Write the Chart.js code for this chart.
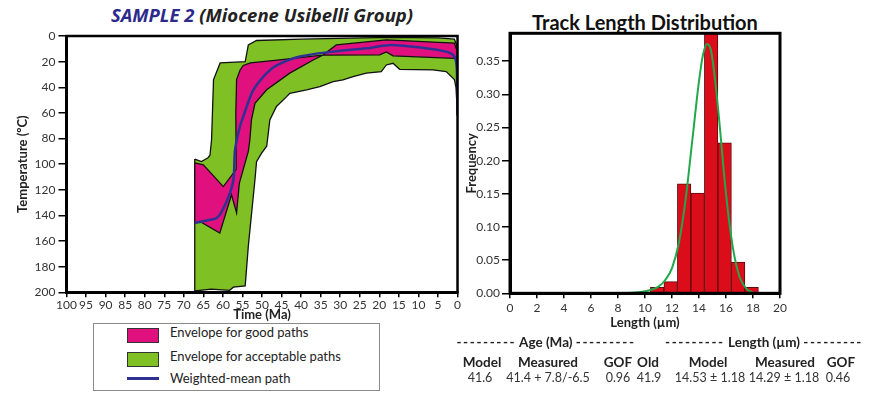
<!DOCTYPE html>
<html>
<head>
<meta charset="utf-8">
<script src="https://cdn.jsdelivr.net/npm/chart.js@4.4.1/dist/chart.umd.min.js"></script>
<style>
body { margin: 0; background: #fff; width: 873px; height: 394px; position: relative; overflow: hidden; font-family: Lato, sans-serif; color: #222; }
.abs { position: absolute; white-space: nowrap; line-height: 1; }
canvas { position: absolute; }
#legendBox { position: absolute; left: 93px; top: 323px; width: 285px; height: 66px; border: 1px solid #8a8a8a; }
.sw { position: absolute; left: 127px; width: 30px; height: 13px; border: 1px solid #333; }
.lg { font-size: 13px; left: 170px; }
.hd { font-weight: bold; font-size: 13.5px; transform: translateX(-50%); }
.vl { font-size: 12.5px; transform: translateX(-50%); color: #333; }
.ds { letter-spacing: 1.6px; }
</style>
</head>
<body>

<div class="abs" id="leftTitle" style="left:262px; top:6px; font-family:'Open Sans', sans-serif; font-size:18.5px; font-weight:bold; font-style:italic; transform:translateX(-50%);"><span style="color:#2d2a8c">SAMPLE 2</span> (Miocene Usibelli Group)</div>
<div class="abs" id="rightTitle" style="left:645px; top:12px; font-size:20px; font-weight:bold; transform:translateX(-50%); color:#111;">Track Length Distribution</div>

<canvas id="historyChart" width="462" height="323" style="left:0; top:0;"></canvas>
<canvas id="lengthChart" width="433" height="331" style="left:440px; top:0;"></canvas>

<div id="legendBox"></div>
<div class="sw" style="top:328px; background:#e0117f;"></div>
<div class="abs lg" style="top:326px;">Envelope for good paths</div>
<div class="sw" style="top:352px; background:#7fc125;"></div>
<div class="abs lg" style="top:350px;">Envelope for acceptable paths</div>
<div class="abs" style="left:127px; top:377px; width:32px; height:3px; background:#2e3192;"></div>
<div class="abs lg" style="top:372px;">Weighted-mean path</div>

<div id="stats"></div>

<script>
// ---- thermal history (left) ----
// envelope for acceptable paths, traced round the outline (age Ma, temperature C)
const acceptAge = [67.2, 65.5, 63.8, 63.3, 62.9, 62.4, 60.7, 54.3, 53.5, 51.4, 40, 17.3, 5, 0.8, 0.1, 0,
    0.4, 0.8, 2.9, 6.3, 14.8, 16.5, 18.2, 19.5, 23.3, 26.7, 29.3, 31.8, 35.2, 38.6, 42.9, 43.7,
    46.3, 48, 48.4, 48.8, 50.1, 51.4, 51.8, 53.5, 54.3, 57.3, 58.3, 63, 67.2, 67.2];
const acceptTemp = [96, 98, 95, 93, 81, 34, 21, 20, 7, 3.5, 2.5, 1, 1.5, 2.5, 8, 62,
    40, 34, 27.8, 26.5, 26, 21.3, 22.6, 27.8, 29, 31.7, 34.3, 35.6, 39.5, 42, 44.7, 47.3,
    55, 65.5, 76, 86, 91.4, 98, 112, 164, 195, 196, 198.5, 197.5, 199, 96];

// envelope for good paths
const goodAge = [67.2, 65, 59.9, 56.6, 56.7, 56.5, 55.6, 54.8, 53, 46.7, 34.5, 19.9, 18.2, 16.5, 0.8, 0.1,
    0.1, 0.8, 18.2, 31, 34.5, 36.9, 42.9, 48.8, 51.8, 52.7, 53.1, 53.5, 55.8, 56.5, 57.8, 60.8, 65.9, 67.2, 67.2];
const goodTemp = [99, 100.5, 117.5, 104, 60, 34, 26.5, 23, 21, 19, 15, 14.8, 12.5, 15.5, 17.4, 17,
    12, 5.5, 3, 7, 15, 18.7, 29, 42, 52.5, 65.5, 81, 90, 115, 138, 124, 153.8, 144.7, 146, 99];

// weighted-mean path
const meanAge = [67.2, 63.3, 61.6, 60.3, 58.5, 57.3, 56.9, 55.6, 54.8, 53.9, 52.2, 48.8, 46.3, 40.3, 31.8, 23.3, 16.9, 8, 2.9, 0.8, 0.2, 0];
const meanTemp = [146, 143.4, 142, 137, 125, 112, 89, 70, 63, 55, 42, 29, 23, 16, 12.2, 9.6, 7, 9.6, 12.2, 16, 25, 62];

// ---- track length distribution (right) ----
const binCenters = [10.9, 11.9, 12.9, 13.9, 14.9, 15.9, 16.9, 17.9];
const binFreq = [0.009, 0.0175, 0.165, 0.151, 0.42, 0.227, 0.047, 0.009];

const fitLength = [8, 9, 10, 11, 11.5, 12, 12.5, 13, 13.5, 14, 14.3, 14.6, 14.9, 15.2, 15.5, 16, 16.5, 17, 17.5, 18];
const fitFreq = [0, 0.001, 0.003, 0.01, 0.02, 0.038, 0.075, 0.14, 0.23, 0.32, 0.36, 0.376, 0.365, 0.32, 0.26, 0.15, 0.07, 0.025, 0.007, 0.001];

// ---- stats table under the histogram ----
const groupLabels = ['Age (Ma)', 'Length (µm)'];
const groupCenters = [546, 764];
const statHeaders = ['Model', 'Measured', 'GOF', 'Old', 'Model', 'Measured', 'GOF'];
const statValues = ['41.6', '41.4 + 7.8/-6.5', '0.96', '41.9', '14.53 ± 1.18', '14.29 ± 1.18', '0.46'];
const headerCenters = [482, 548, 618, 648, 708, 785, 841];
const valueCenters = [480, 548, 618, 649, 710, 784, 838];

const stats = document.getElementById('stats');
function addText(txt, cls, x, y, dashed) {
    const d = document.createElement('div');
    d.className = 'abs ' + cls;
    if (dashed) {
        d.innerHTML = '<span class="ds">---------</span> ' + txt + ' <span class="ds">---------</span>';
    } else {
        d.textContent = txt;
    }
    d.style.left = x + 'px';
    d.style.top = y + 'px';
    stats.appendChild(d);
}
groupLabels.forEach((t, i) => addText(t, 'hd', groupCenters[i], 336, true));
statHeaders.forEach((t, i) => addText(t, 'hd', headerCenters[i], 356));
statValues.forEach((t, i) => addText(t, 'vl', valueCenters[i], 372));

Chart.defaults.font.family = 'Lato, sans-serif';
Chart.defaults.color = '#333';

const toPoints = (xs, ys) => xs.map((x, i) => ({ x: x, y: ys[i] }));

// thick black frame round the plot area
const frame = {
    id: 'frame',
    afterDraw(chart, args, opts) {
        const { ctx, chartArea: a } = chart;
        ctx.save();
        ctx.strokeStyle = '#000';
        ctx.lineWidth = opts.width;
        ctx.strokeRect(a.left, a.top, a.right - a.left, a.bottom - a.top);
        ctx.restore();
    }
};

const historyChart = new Chart(document.getElementById('historyChart'), {
    type: 'line',
    data: {
        datasets: [
            {
                label: 'Weighted-mean path',
                data: toPoints(meanAge, meanTemp),
                borderColor: '#2e3192',
                borderWidth: 2.5,
                pointRadius: 0,
                tension: 0.3,
                fill: false
            },
            {
                label: 'Envelope for good paths',
                data: toPoints(goodAge, goodTemp),
                borderColor: '#111',
                borderWidth: 1.3,
                backgroundColor: '#e0117f',
                pointRadius: 0,
                fill: 'shape'
            },
            {
                label: 'Envelope for acceptable paths',
                data: toPoints(acceptAge, acceptTemp),
                borderColor: '#111',
                borderWidth: 1.3,
                backgroundColor: '#7fc125',
                pointRadius: 0,
                fill: 'shape'
            }
        ]
    },
    options: {
        responsive: false,
        animation: false,
        devicePixelRatio: 1,
        layout: { padding: { top: 36, right: 4, left: 0, bottom: 0 } },
        plugins: {
            legend: { display: false },
            tooltip: { enabled: false },
            filler: { drawTime: 'beforeDatasetDraw' },
            frame: { width: 2.5 }
        },
        scales: {
            x: {
                type: 'linear',
                min: 0,
                max: 100,
                reverse: true,
                afterFit: s => { s.height = 30.7; },
                ticks: { stepSize: 5, autoSkip: false, maxRotation: 0, padding: 1, font: { size: 12 } },
                grid: { drawOnChartArea: false, color: '#000', lineWidth: 1.5, tickLength: 5 },
                border: { color: '#000', width: 3 },
                title: { display: true, text: 'Time (Ma)', color: '#222', font: { size: 13, weight: 'bold' }, padding: { top: 0, bottom: 0 } }
            },
            y: {
                type: 'linear',
                min: 0,
                max: 200,
                reverse: true,
                afterFit: s => { s.width = 66.5; },
                ticks: { stepSize: 20, padding: 3, font: { size: 12 } },
                grid: { drawOnChartArea: false, color: '#000', lineWidth: 1.5, tickLength: 8 },
                border: { color: '#000', width: 3 },
                title: { display: true, text: 'Temperature (ºC)', color: '#222', font: { size: 13, weight: 'bold' }, padding: { top: 15, bottom: 0 } }
            }
        }
    },
    plugins: [frame]
});

const lengthChart = new Chart(document.getElementById('lengthChart'), {
    type: 'bar',
    data: {
        datasets: [
            {
                type: 'line',
                label: 'Model fit',
                data: toPoints(fitLength, fitFreq),
                borderColor: '#22a84a',
                borderWidth: 2,
                pointRadius: 0,
                cubicInterpolationMode: 'monotone',
                fill: false
            },
            {
                type: 'bar',
                label: 'Measured',
                data: toPoints(binCenters, binFreq),
                backgroundColor: '#dc0d1b',
                borderColor: '#5e0a0e',
                borderWidth: 1,
                barPercentage: 1,
                categoryPercentage: 1
            }
        ]
    },
    options: {
        responsive: false,
        animation: false,
        devicePixelRatio: 1,
        layout: { padding: { top: 33.3, right: 93, left: 0, bottom: 0 } },
        plugins: {
            legend: { display: false },
            tooltip: { enabled: false },
            frame: { width: 3 }
        },
        scales: {
            x: {
                type: 'linear',
                min: 0,
                max: 20,
                offset: false,
                afterFit: s => { s.height = 37.7; },
                ticks: { stepSize: 2, autoSkip: false, maxRotation: 0, padding: 3, font: { size: 12 } },
                grid: { offset: false, drawOnChartArea: false, color: '#000', lineWidth: 1.5, tickLength: 5 },
                border: { color: '#000', width: 3 },
                title: { display: true, text: 'Length (µm)', color: '#222', font: { size: 13, weight: 'bold' }, padding: { top: 0, bottom: 0 } }
            },
            y: {
                type: 'linear',
                min: 0,
                max: 0.392,
                afterFit: s => { s.width = 70; },
                ticks: { stepSize: 0.05, includeBounds: false, padding: 2, font: { size: 12 }, callback: v => v.toFixed(2) },
                grid: { drawOnChartArea: false, color: '#000', lineWidth: 1.5, tickLength: 8 },
                border: { color: '#000', width: 3 },
                title: { display: true, text: 'Frequency', color: '#222', font: { size: 13, weight: 'bold' }, padding: { top: 24, bottom: 0 } }
            }
        }
    },
    plugins: [frame]
});
</script>
</body>
</html>
